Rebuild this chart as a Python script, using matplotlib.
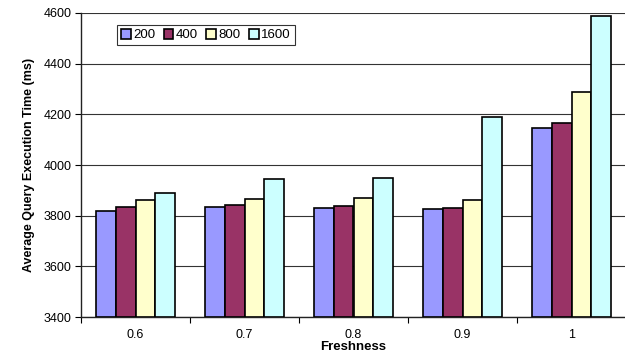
import matplotlib
matplotlib.use("Agg")
import matplotlib.pyplot as plt
import numpy as np

plt.rcParams['font.family'] = ['Liberation Sans', 'DejaVu Sans']

categories = ["0.6", "0.7", "0.8", "0.9", "1"]
series_names = ["200", "400", "800", "1600"]
v200 = [3820, 3833, 3830, 3827, 4148]
v400 = [3835, 3843, 3839, 3830, 4167]
v800 = [3862, 3866, 3871, 3860, 4287]
v1600 = [3891, 3946, 3950, 4191, 4587]
colors = ["#9999FF", "#993366", "#FFFFCC", "#CCFFFF"]

fig = plt.figure(figsize=(6.25, 3.64), dpi=100)
ax = fig.add_axes([81/625, 47/364, 545/625, 304/364])

x = np.arange(len(categories))
bw = 0.181
data = [v200, v400, v800, v1600]
for i, (vals, c, name) in enumerate(zip(data, colors, series_names)):
    ax.bar(x + (i - 1.5) * bw, np.array(vals) - 3400, bottom=3400, width=bw,
           color=c, edgecolor='black', linewidth=1.2, label=name, zorder=3)

ax.set_ylim(3400, 4600)
ax.set_xlim(-0.5, len(categories) - 0.5)
ax.set_yticks(np.arange(3400, 4601, 200))
ax.yaxis.grid(True, color='#333333', linewidth=0.8, zorder=0)
ax.set_axisbelow(True)

ax.set_xticks(x)
ax.set_xticklabels(categories)
ax.tick_params(axis='x', which='major', length=0, labelsize=9, pad=9)
ax.set_xticks(np.arange(-0.5, len(categories) - 0.4, 1), minor=True)
ax.tick_params(axis='x', which='minor', length=4, width=0.8, direction='out')
ax.tick_params(axis='y', length=4, width=0.8, labelsize=9, pad=3)

for s in ['top', 'right']:
    ax.spines[s].set_visible(False)
for s in ['left', 'bottom']:
    ax.spines[s].set_linewidth(1.0)
    ax.spines[s].set_color('#222222')

ax.set_xlabel("Freshness", fontsize=9.5, fontweight='bold', labelpad=0)
ax.set_ylabel("Average Query Execution Time (ms)", fontsize=9, fontweight='bold', labelpad=6)

leg = ax.legend(ncol=4, loc='upper left', bbox_to_anchor=(36/545, 1 - 12/304),
                fontsize=9.5, frameon=True, fancybox=False, handlelength=0.75,
                handleheight=0.75, handletextpad=0.2, columnspacing=0.6,
                borderpad=0.3, borderaxespad=0)
leg.get_frame().set_edgecolor('black')
leg.get_frame().set_linewidth(0.8)

fig.savefig("out.png", dpi=100)
